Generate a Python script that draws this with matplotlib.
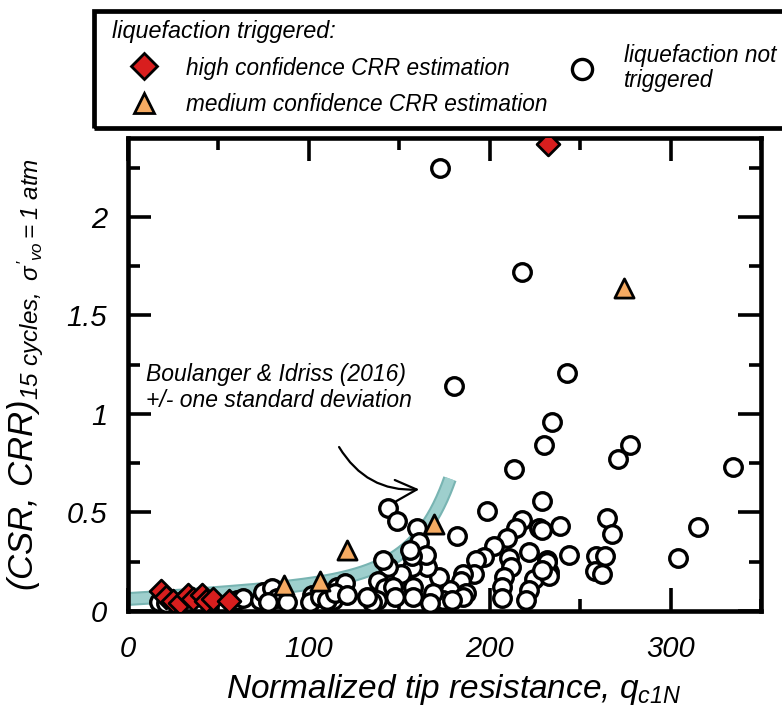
import numpy as np
import matplotlib
matplotlib.use("Agg")
import matplotlib.pyplot as plt
from matplotlib.lines import Line2D
from matplotlib.patches import Rectangle
from matplotlib.ticker import MultipleLocator, FuncFormatter

plt.rcParams['font.family'] = ['Liberation Sans', 'DejaVu Sans']
plt.rcParams['font.style'] = 'italic'
plt.rcParams['mathtext.fontset'] = 'custom'
plt.rcParams['mathtext.it'] = 'Liberation Sans:italic'
plt.rcParams['mathtext.rm'] = 'Liberation Sans:italic'
plt.rcParams['mathtext.sf'] = 'Liberation Sans:italic'

# ---- case histories: liquefaction triggered, high confidence CRR ----
high_q = [18, 21, 25, 29, 33, 36, 41, 43, 47, 56, 232]
high_crr = [0.10, 0.07, 0.05, 0.04, 0.08, 0.06, 0.08, 0.05, 0.06, 0.05, 2.37]

# ---- liquefaction triggered, medium confidence CRR ----
med_q = [86, 106, 121, 169, 274]
med_crr = [0.13, 0.15, 0.31, 0.44, 1.64]

# ---- liquefaction not triggered ----
no_q = [172.3, 218, 242.7, 180, 234.5, 230, 277.4, 271, 334.5, 213.5, 198.7, 229,
        144, 149, 160, 160.7, 182, 218, 214.6, 209.7, 202.5, 227, 221.8, 231.7,
        232.8, 210.8, 212, 208, 207, 207, 224.5, 221.8, 220, 197, 192.6, 191.5,
        185, 184, 187, 177.8, 174, 172, 165.6, 165, 157, 157, 155.7, 151, 143.6,
        141, 138, 142, 146.4, 157.4, 157.4, 147.5, 137.6, 134.8, 168.4, 166.8,
        115.6, 120, 113.4, 185, 179.4,
        238.8, 229, 265, 267.5, 315, 304, 244, 258.7, 263.6, 258, 262, 231.7, 233, 229,
        17, 21, 60.5, 63.8, 73, 74.8, 79.8, 82.5, 77.6, 88, 101.8, 100.7, 106, 110,
        114.5, 121, 132]
no_crr = [2.25, 1.72, 1.21, 1.14, 0.96, 0.84, 0.84, 0.77, 0.73, 0.72, 0.505, 0.556,
          0.525, 0.455, 0.42, 0.35, 0.38, 0.46, 0.42, 0.37, 0.33, 0.42, 0.30, 0.26,
          0.20, 0.27, 0.225, 0.17, 0.12, 0.066, 0.16, 0.107, 0.056, 0.275, 0.26, 0.19,
          0.19, 0.15, 0.09, 0.107, 0.056, 0.17, 0.225, 0.285, 0.225, 0.28, 0.31, 0.19, 0.225,
          0.26, 0.15, 0.117, 0.122, 0.122, 0.07, 0.07, 0.056, 0.046, 0.09, 0.04,
          0.122, 0.14, 0.056, 0.07, 0.056,
          0.43, 0.41, 0.47, 0.39, 0.425, 0.27, 0.285, 0.28, 0.28, 0.205, 0.19, 0.25, 0.18, 0.21,
          0.046, 0.04, 0.056, 0.066, 0.056, 0.097, 0.117, 0.066, 0.046, 0.046, 0.082, 0.046, 0.071, 0.056,
          0.092, 0.082, 0.07]

x_ticks = [0, 100, 200, 300]
y_ticks = [0, 0.5, 1, 1.5, 2]

RED = '#d81e1e'
ORANGE = '#f5aa62'
BAND_EDGE = '#78b4b2'
BAND_FILL = '#9ecfcd'


def crr_boulanger_idriss(q):
    """Boulanger & Idriss (2016) CPT-based CRR for M=7.5, sigma'vo = 1 atm."""
    return np.exp(q / 113 + (q / 1000) ** 2 - (q / 140) ** 3 + (q / 137) ** 4 - 2.80)


fig = plt.figure(figsize=(7.82, 7.08), dpi=100)
ax = fig.add_axes([128 / 782, 1 - 611 / 708, (761 - 128) / 782, (611 - 138) / 708])

# correlation band, drawn up to CRR = 0.7
q_curve = np.linspace(0, 178, 400)
crr_curve = crr_boulanger_idriss(q_curve)
ax.plot(q_curve, crr_curve, color=BAND_EDGE, lw=10, solid_capstyle='butt', zorder=1)
ax.plot(q_curve, crr_curve, color=BAND_FILL, lw=7, solid_capstyle='butt', zorder=1.1)

# case histories
ax.scatter(no_q, no_crr, s=160, marker='o', facecolor='white', edgecolor='black',
           linewidth=2.4, zorder=3)
ax.scatter(med_q, med_crr, s=190, marker='^', facecolor=ORANGE, edgecolor='black',
           linewidth=2.0, zorder=4)
ax.scatter(high_q, high_crr, s=135, marker='D', facecolor=RED, edgecolor='black',
           linewidth=2.0, zorder=5)

ax.set_xlim(0, 350)
ax.set_ylim(0, 2.4)
ax.xaxis.set_minor_locator(MultipleLocator(50))
ax.yaxis.set_minor_locator(MultipleLocator(0.25))
ax.set_xticks(x_ticks)
ax.set_yticks(y_ticks)
fmt = FuncFormatter(lambda v, p: f'{v:g}')
ax.xaxis.set_major_formatter(fmt)
ax.yaxis.set_major_formatter(fmt)
ax.tick_params(which='both', direction='in', top=True, right=True, width=2.6,
               labelsize=21)
ax.tick_params(which='major', length=16.5)
ax.tick_params(which='minor', length=8.5)
ax.tick_params(axis='x', which='major', pad=17)
ax.tick_params(axis='y', which='major', pad=15)
for sp in ax.spines.values():
    sp.set_linewidth(3.3)

ax.set_xlabel(r'Normalized tip resistance, $q_{c1N}$', fontsize=24)
ax.set_ylabel(r"(CSR, CRR)$_{15\ cycles,\ \sigma'_{vo}=1\ atm}$", fontsize=25)
ax.xaxis.set_label_coords(0.515, -0.13)
ax.yaxis.set_label_coords(-0.13, 0.5)

ax.text(10, 1.135, 'Boulanger & Idriss (2016)\n+/- one standard deviation',
        fontsize=16.5, ha='left', va='center', linespacing=1.15, zorder=6)
ax.annotate('', xy=(161, 0.617), xytext=(116.7, 0.832),
            arrowprops=dict(arrowstyle='->,head_length=0.7,head_width=0.35',
                            connectionstyle='arc3,rad=0.3', lw=1.6, color='black',
                            mutation_scale=22, shrinkA=0, shrinkB=0), zorder=6)

# legend panel
fig.add_artist(Rectangle((94 / 782, 1 - 128 / 708), 0.95, 117 / 708,
                         transform=fig.transFigure, facecolor='none',
                         edgecolor='black', linewidth=3.4, clip_on=False))

h_high = Line2D([], [], ls='none', marker='D', ms=13, mfc=RED, mec='black', mew=2)
h_med = Line2D([], [], ls='none', marker='^', ms=15, mfc=ORANGE, mec='black', mew=2)
h_no = Line2D([], [], ls='none', marker='o', ms=14.5, mfc='white', mec='black', mew=2.4)

common = dict(frameon=False, fontsize=16.3, handlelength=2.8, handletextpad=0.45,
              borderpad=0, borderaxespad=0, handleheight=0.8)
leg1 = fig.legend([h_high, h_med],
                  ['high confidence CRR estimation', 'medium confidence CRR estimation'],
                  title='liquefaction triggered:', title_fontsize=16.8, alignment='left',
                  loc='upper left', bbox_to_anchor=(112 / 782, 1 - 20 / 708),
                  labelspacing=0.6, **common)
leg2 = fig.legend([h_no], ['liquefaction not\ntriggered'],
                  loc='center left', bbox_to_anchor=(550 / 782, 1 - 68 / 708), **common)
for t in leg2.get_texts():
    t.set_linespacing(1.1)

fig.savefig('out.png', dpi=100)
